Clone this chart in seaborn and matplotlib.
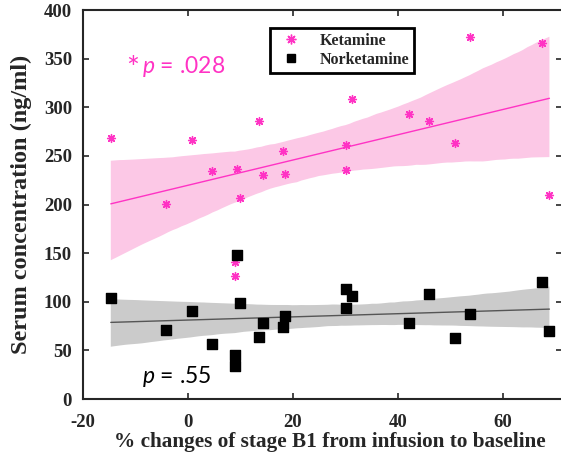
import seaborn as sns
import numpy as np
import matplotlib.pyplot as plt
from matplotlib.lines import Line2D

# datos
cambio_b1 = [-14.7, -4.2, 0.8, 4.6, 8.9, 8.9, 9.3, 10.0, 13.6, 14.3, 18.2,
             18.5, 30.2, 30.2, 31.3, 42.1, 46.0, 51.0, 53.8, 67.5, 68.9]
ketamina = [268, 201, 266, 234, 141, 126, 237, 207, 286, 230, 255,
            231, 261, 235, 308, 293, 286, 263, 372, 366, 210]
norketamina = [104, 71, 90, 57, 45, 34, 148, 99, 64, 78, 74,
               85, 94, 113, 106, 78, 108, 63, 87, 120, 70]
etiquetas = ['Ketamine', 'Norketamine']

rosa = '#ff33c4'
rosa_banda = '#fcc8e6'
gris_linea = '#555555'
gris_banda = '#cbcbcb'

sns.set_style("ticks")
plt.rcParams['font.family'] = ['Liberation Serif', 'DejaVu Serif']
plt.rcParams['axes.unicode_minus'] = False
plt.rcParams['mathtext.fontset'] = 'custom'
plt.rcParams['mathtext.it'] = 'Lato:italic'
plt.rcParams['mathtext.rm'] = 'Lato'

fig = plt.figure(figsize=(5.61, 4.53), dpi=100)
ax = fig.add_axes([83 / 561, 54 / 453, 479 / 561, 389 / 453])

# ===============================
# REGRESIONES
# ===============================
sns.regplot(x=cambio_b1, y=ketamina, scatter=False, ci=95, seed=3, ax=ax,
            color=rosa, line_kws={'lw': 1, 'zorder': 2})
sns.regplot(x=cambio_b1, y=norketamina, scatter=False, ci=95, seed=3, ax=ax,
            color=gris_linea, line_kws={'lw': 1, 'zorder': 2})
bandas = ax.collections
bandas[0].set_facecolor(rosa_banda)
bandas[1].set_facecolor(gris_banda)
for b in bandas:
    b.set_alpha(1)
    b.set_edgecolor('none')
    b.set_zorder(1)

# puntos
ax.scatter(cambio_b1, ketamina, marker=(8, 2, 0), s=32, color=rosa,
           linewidths=1, zorder=3)
ax.scatter(cambio_b1, norketamina, marker='s', s=42, color='black', zorder=3)

ax.set_xlim(-20, 71.3)
ax.set_ylim(0, 400)
ax.set_xticks([-20, 0, 20, 40, 60])
ax.set_yticks(range(0, 401, 50))
ax.tick_params(direction='in', top=True, right=True, length=4, width=1.2,
               labelsize=13.5)
ax.tick_params(axis='x', pad=11)
ax.tick_params(axis='y', pad=8)
for lbl in ax.get_xticklabels() + ax.get_yticklabels():
    lbl.set_fontweight('bold')
for s in ax.spines.values():
    s.set_linewidth(1.5)
    s.set_visible(True)

ax.set_xlabel('% changes of stage B1 from infusion to baseline',
              fontsize=15.3, fontweight='bold')
ax.set_ylabel('Serum concentration (ng/ml)', fontsize=17.5,
              fontweight='bold')
ax.xaxis.set_label_coords(0.515, -0.086)
ax.yaxis.set_label_coords(-0.107, 0.5)

# textos de p
ax.text(-11.8, 354, '*', color=rosa, fontsize=22, va='top',
        family=['Lato', 'DejaVu Sans'])
ax.text(-8.7, 335, '$p$ = .028', color=rosa, fontsize=16.5,
        family=['Lato', 'DejaVu Sans'])
ax.text(-8.7, 16, '$p$ = .55', color='black', fontsize=16.5,
        family=['Lato', 'DejaVu Sans'])

# leyenda
handles = [Line2D([], [], marker=(8, 2, 0), ls='none', color=rosa, ms=7),
           Line2D([], [], marker='s', ls='none', color='black', ms=6)]
leg = ax.legend(handles, etiquetas, loc='upper left',
                bbox_to_anchor=(0.39, 0.954), borderaxespad=0,
                fancybox=False, framealpha=1, edgecolor='black',
                handletextpad=0.8, borderpad=0.3, labelspacing=0.2,
                prop={'weight': 'bold', 'size': 11.5})
leg.get_frame().set_linewidth(2)

plt.savefig('out.png', dpi=100)
